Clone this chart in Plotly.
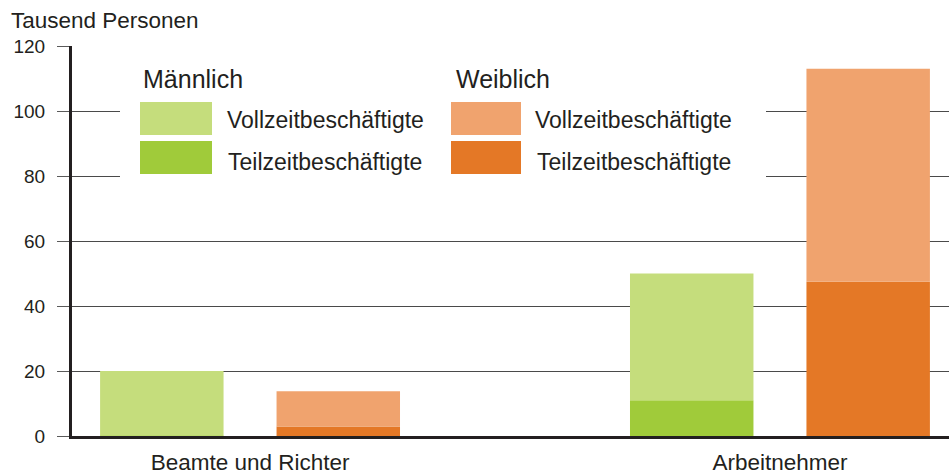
import plotly.graph_objects as go

# ---- data ----
categories = ["Beamte und Richter", "Arbeitnehmer"]
male_part = [0.2, 11]
male_full = [19.8, 39]
female_part = [2.9, 47.5]
female_full = [10.9, 65.5]
y_ticks = [0, 20, 40, 60, 80, 100, 120]

C_M_FULL = "#c5dd7c"
C_M_PART = "#a0cb3a"
C_F_FULL = "#f0a36e"
C_F_PART = "#e47826"
FONT = "Liberation Sans, Arial, sans-serif"
TXT = "#231f20"

W, H = 949, 476
# plot area in page pixels: x 72..949, y 46..436
L, R, T, B = 72, 0, 46, 40
PW, PH = W - L - R, H - T - B


def px(xp):  # page pixel -> paper x
    return (xp - L) / PW


def py(yp):  # page pixel -> paper y
    return (H - B - yp) / PH


xpos = list(range(len(categories)))
bw = 0.233
off_m = -0.283
off_f = 0.050

fig = go.Figure()
fig.add_bar(x=xpos, y=male_part, base=[0] * len(xpos), width=bw, offset=off_m,
            marker=dict(color=C_M_PART, line=dict(width=0)), name="Männlich Teilzeit")
fig.add_bar(x=xpos, y=male_full, base=male_part, width=bw, offset=off_m,
            marker=dict(color=C_M_FULL, line=dict(width=0)), name="Männlich Vollzeit")
fig.add_bar(x=xpos, y=female_part, base=[0] * len(xpos), width=bw, offset=off_f,
            marker=dict(color=C_F_PART, line=dict(width=0)), name="Weiblich Teilzeit")
fig.add_bar(x=xpos, y=female_full, base=female_part, width=bw, offset=off_f,
            marker=dict(color=C_F_FULL, line=dict(width=0)), name="Weiblich Vollzeit")

shapes = []
annotations = []

# white backdrop behind legend (hides gridlines)
shapes.append(dict(type="rect", xref="paper", yref="paper",
                   x0=px(120), x1=px(766), y0=py(200), y1=py(56),
                   fillcolor="white", line=dict(width=0), layer="above"))

# legend swatches
for (x0, x1, y0, y1, col) in [
    (140, 212, 102, 135, C_M_FULL),
    (140, 212, 141, 174, C_M_PART),
    (451, 521, 102, 135, C_F_FULL),
    (451, 521, 141, 174, C_F_PART),
]:
    shapes.append(dict(type="rect", xref="paper", yref="paper",
                       x0=px(x0), x1=px(x1), y0=py(y1), y1=py(y0),
                       fillcolor=col, line=dict(width=0), layer="above"))

legend_texts = [
    ("Männlich", 141, 79, 25),
    ("Weiblich", 454, 79, 25),
    ("Vollzeitbeschäftigte", 225, 120, 23),
    ("Teilzeitbeschäftigte", 226, 162, 23),
    ("Vollzeitbeschäftigte", 533, 120, 23),
    ("Teilzeitbeschäftigte", 535, 162, 23),
]
for text, x, y, s in legend_texts:
    annotations.append(dict(text=text, xref="paper", yref="paper",
                            x=px(x), y=py(y), xanchor="left", yanchor="middle",
                            showarrow=False, font=dict(size=s, color=TXT, family=FONT)))

annotations.append(dict(text="Tausend Personen", xref="paper", yref="paper",
                        x=px(9), y=py(20), xanchor="left", yanchor="middle",
                        showarrow=False, font=dict(size=22.5, color=TXT, family=FONT)))

fig.update_layout(
    width=W, height=H,
    margin=dict(l=L, r=R, t=T, b=B, autoexpand=False),
    paper_bgcolor="white", plot_bgcolor="white",
    barmode="overlay",
    showlegend=False,
    hovermode=False,
    font=dict(family=FONT, color=TXT),
    shapes=shapes,
    annotations=annotations,
    xaxis=dict(
        range=[-0.336, 1.319],
        tickmode="array", tickvals=xpos, ticktext=categories,
        tickfont=dict(size=22.5, color=TXT, family=FONT),
        showgrid=False, zeroline=False,
        showline=True, linecolor=TXT, linewidth=3,
        ticks="", ticklabelstandoff=4, fixedrange=True,
    ),
    yaxis=dict(
        range=[0, 120],
        tickmode="array", tickvals=y_ticks,
        tickfont=dict(size=19, color=TXT, family=FONT),
        showgrid=True, gridcolor="#4a4a4a", gridwidth=1,
        zeroline=False,
        showline=True, linecolor=TXT, linewidth=3,
        ticks="outside", ticklen=12, tickcolor="#5a5a5a", tickwidth=1,
        ticklabelstandoff=8,
        fixedrange=True,
    ),
)

fig.write_html(
    "out.html",
    config={"displayModeBar": False, "staticPlot": True},
    post_script="document.body.style.margin='0px';document.body.style.overflow='hidden';",
)
